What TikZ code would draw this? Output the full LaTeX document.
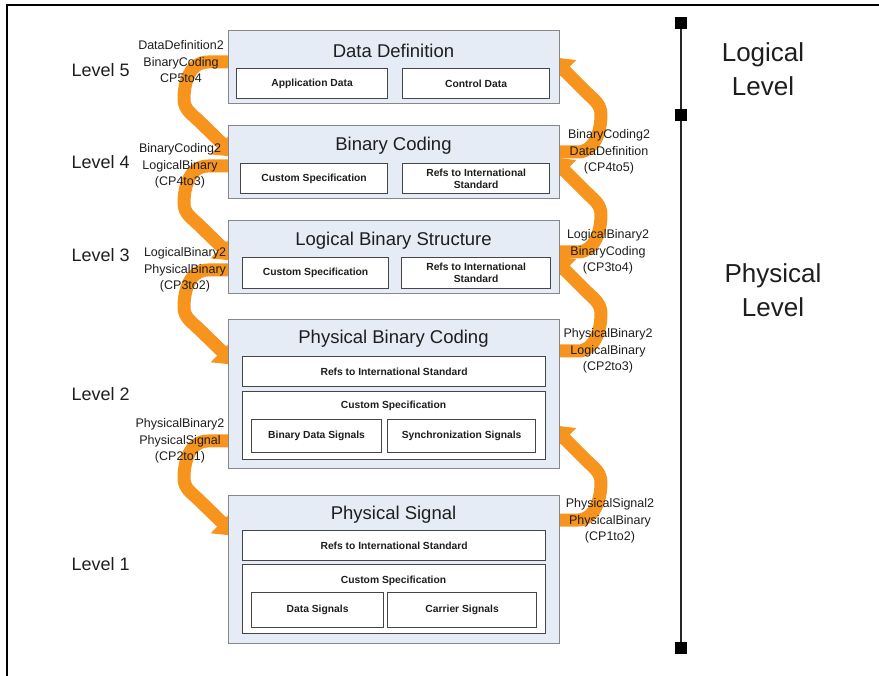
\documentclass[tikz,border=0pt]{standalone}
\usepackage{fontspec}
\setmainfont{Liberation Sans}
\usetikzlibrary{arrows.meta}
\definecolor{boxfill}{RGB}{230,236,246}
\definecolor{boxline}{RGB}{135,135,135}
\definecolor{innerline}{RGB}{70,70,70}
\definecolor{arroworange}{RGB}{247,148,30}
\definecolor{txt}{RGB}{30,30,30}
\begin{document}
\begin{tikzpicture}[x=1pt,y=-1pt,
 outerbox/.style={draw=boxline, fill=boxfill, line width=1.3pt, anchor=north west, inner sep=0pt},
 innerbox/.style={draw=innerline, fill=white, line width=1.2pt, anchor=north west, inner sep=0pt, font=\fontsize{10.3}{12}\selectfont\bfseries, text=txt, align=center},
 boxtitle/.style={font=\fontsize{18.5}{22}\selectfont, text=txt},
 levellabel/.style={font=\fontsize{18}{22}\selectfont, text=txt, anchor=west},
 cplabel/.style={font=\fontsize{12.5}{16.5}\selectfont, text=txt, align=center},
 sidelabel/.style={font=\fontsize{26}{34}\selectfont, text=txt, align=center},
 band/.style={draw=arroworange, line width=13pt, -{Triangle[width=30pt,length=20pt]}, line join=round},
 marker/.style={fill=black, minimum size=12pt, inner sep=0pt},
]
\useasboundingbox (0,0) rectangle (879,676);
\draw[line width=2pt, black] (7,676) -- (7,5) -- (879,5);

% orange connectors (drawn first, heads hidden under boxes)
\foreach \y in {62,166,270,441} {
  \draw[band] (229,\y) -- (208,\y) .. controls (190,\y) and (184,\y+20) .. (184,\y+37)
     .. controls (184,\y+48) and (192,\y+52) .. (200,\y+60) -- (236,\y+95);
}
\foreach \y in {152,252,351,520} {
  \draw[band] (559,\y) -- (578,\y) .. controls (594,\y) and (601,\y-20) .. (601,\y-37)
     .. controls (601,\y-48) and (594,\y-52) .. (586,\y-60) -- (551,\y-95);
}

% Level 5
\node[outerbox, minimum width=331pt, minimum height=73pt] (dd) at (228,30) {};
\node[boxtitle] (ddt) at (393.5,51) {Data Definition};
\node[innerbox, minimum width=151pt, minimum height=30pt] (ddapp) at (236,68) {Application Data};
\node[innerbox, minimum width=147pt, minimum height=30pt] (ddctl) at (402,68) {Control Data};

% Level 4
\node[outerbox, minimum width=331pt, minimum height=73pt] (bc) at (228,125) {};
\node[boxtitle] (bct) at (393.5,146) {Binary Coding};
\node[innerbox, minimum width=147pt, minimum height=30pt] (bccs) at (240,163) {Custom Specification};
\node[innerbox, minimum width=147pt, minimum height=30pt] (bcref) at (402,163) {Refs to International\\Standard};

% Level 3
\node[outerbox, minimum width=331pt, minimum height=73pt] (lb) at (228,220) {};
\node[boxtitle] (lbt) at (393.5,241) {Logical Binary Structure};
\node[innerbox, minimum width=146pt, minimum height=31pt] (lbcs) at (242,257) {Custom Specification};
\node[innerbox, minimum width=149pt, minimum height=31pt] (lbref) at (401,257) {Refs to International\\Standard};

% Level 2
\node[outerbox, minimum width=331pt, minimum height=149pt] (pb) at (228,319) {};
\node[boxtitle] (pbt) at (393.5,339) {Physical Binary Coding};
\node[innerbox, minimum width=303pt, minimum height=30pt] (pbref) at (242,356) {Refs to International Standard};
\node[innerbox, minimum width=303pt, minimum height=68pt] (pbcs) at (242,391) {};
\node[innerbox, anchor=center, draw=none, fill=none] (pbcst) at (393.5,406) {Custom Specification};
\node[innerbox, minimum width=130pt, minimum height=33pt] (pbbds) at (251,419) {Binary Data Signals};
\node[innerbox, minimum width=148pt, minimum height=33pt] (pbsync) at (387,419) {Synchronization Signals};

% Level 1
\node[outerbox, minimum width=331pt, minimum height=148pt] (ps) at (228,495) {};
\node[boxtitle] (pst) at (393.5,515) {Physical Signal};
\node[innerbox, minimum width=303pt, minimum height=30pt] (psref) at (242,530) {Refs to International Standard};
\node[innerbox, minimum width=303pt, minimum height=69pt] (pscs) at (242,564) {};
\node[innerbox, anchor=center, draw=none, fill=none] (pscst) at (393.5,581) {Custom Specification};
\node[innerbox, minimum width=132pt, minimum height=35pt] (psds) at (251,592) {Data Signals};
\node[innerbox, minimum width=149pt, minimum height=35pt] (pscar) at (387,592) {Carrier Signals};

% level labels
\node[levellabel] (l5) at (68,70) {Level 5};
\node[levellabel] (l4) at (68,162) {Level 4};
\node[levellabel] (l3) at (68,255) {Level 3};
\node[levellabel] (l2) at (68,394) {Level 2};
\node[levellabel] (l1) at (68,564) {Level 1};

% connector labels
\node[cplabel] (cp54) at (181,62) {DataDefinition2\\BinaryCoding\\CP5to4};
\node[cplabel] (cp43) at (180,166) {BinaryCoding2\\LogicalBinary\\(CP4to3)};
\node[cplabel] (cp32) at (185,270) {LogicalBinary2\\PhysicalBinary\\(CP3to2)};
\node[cplabel] (cp21) at (180,441) {PhysicalBinary2\\PhysicalSignal\\(CP2to1)};
\node[cplabel] (cp45) at (609,152) {BinaryCoding2\\DataDefinition\\(CP4to5)};
\node[cplabel] (cp34) at (608,252) {LogicalBinary2\\BinaryCoding\\(CP3to4)};
\node[cplabel] (cp23) at (608,351) {PhysicalBinary2\\LogicalBinary\\(CP2to3)};
\node[cplabel] (cp12) at (610,521) {PhysicalSignal2\\PhysicalBinary\\(CP1to2)};

% scale bar
\coordinate (sbtop) at (681,23);
\coordinate (sbmid) at (681,115);
\coordinate (sbbot) at (681,648);
\draw[line width=2.5pt, black!85] (sbtop) -- (sbbot);
\node[marker] (m1) at (sbtop) {};
\node[marker] (m2) at (sbmid) {};
\node[marker] (m3) at (sbbot) {};
\node[sidelabel] (logical) at (763,69) {Logical\\Level};
\node[sidelabel] (physical) at (773,290) {Physical\\Level};
\end{tikzpicture}
\end{document}
